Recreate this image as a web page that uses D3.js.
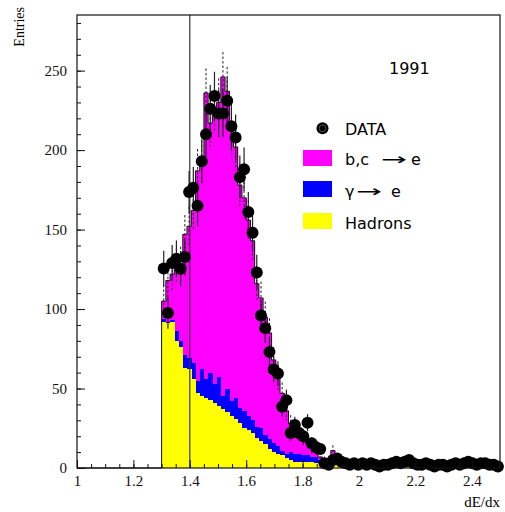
<!DOCTYPE html>
<html><head><meta charset="utf-8">
<script src="https://cdn.jsdelivr.net/npm/d3@7"></script>
<style>body{margin:0;background:#fff}svg{display:block}</style>
</head><body>
<svg id="c" width="505" height="512"></svg>
<script>
// ---- data (bins of width 0.015 starting at dE/dx = 1.3) ----
const binStart = 1.3;
const binWidth = 0.015;
const hadrons = [92,91,92,80,76,63,62,56,47,45,44,43,41,39,37,35,33,31,28,25,
  24,22,19,17,15,12,10,9,8,6,5,4,4,4,4,3.5,3,3,3,2.5,
  3,3,2,2,1.5,2,2,1.5,1.5,1,1.5,1,1,1.5,1,1,1,1,1.5,1,
  1,1,1,1,1,1,1,1,1,1,1,1,1,1,1,1,1,1,1,1];
const gammaE = [2,1,1,6,4,8,7,10,8,17,12,17,12,18,8,15,9,13,10,11,
  9,8,7,8,6,6,6,5,3,3,5,5,5,4,4,3.5,4,2,1,1,
  1,1,1,0.5,0.5,0.5,0.5,0.5,0.5,0.5,0.5,0.5,0.5,0.5,0.5,0.5,0.5,0.5,0.5,0.5,
  0.5,0.5,0.5,0.5,0.5,0.5,0.5,0.5,0.5,0.5,0.5,0.5,0.5,0.5,0.5,0.5,0.5,0.5,0.5,0.5];
const bcE = [11,26,29,41,48,76,83,96,132,133,180,157,174,173,201,187,170,158,140,134,
  123,113,90,82,74,67,52,43,36,27,18,15,13,9.5,7.5,6,2.5,2,1,0.5,
  7,2,0.5,0.5,0.5,0.5,0.5,0.5,0.5,0.5,0.5,0.5,0.5,0.5,0.5,0.5,0.5,0.5,0.5,0.5,
  0.5,0.5,0.5,0.5,0.5,0.5,0.5,0.5,0.5,0.5,0.5,0.5,0.5,0.5,0.5,0.5,0.5,0.5,0.5,0.5];
const dataCounts = [125.5,97.5,129,131.7,125.4,132.7,173.6,176.3,165,193,210,226,234,223,223,231,215,208,183,188,
  161,148,123,96,88,73,62,59.5,38.5,42.7,22,27,22,20,28.5,15.5,13,12,3,2,
  5,6,4,3,2,3,2,3,2,3,2,1,2,2,3,4,3,4,5,3,
  2,2,3,2,1,2,2,1,2,3,2,3,4,3,2,3,3,2,2,1];
const xTickValues = [1,1.2,1.4,1.6,1.8,2,2.2,2.4];
const xTickLabels = ["1","1.2","1.4","1.6","1.8","2","2.2","2.4"];
const yTickValues = [0,50,100,150,200,250];
const cutValue = 1.4;
const legendLabels = ["DATA","b,c","γ","Hadrons"];
const yearLabel = "1991";

// ---- layout ----
const svg = d3.select("#c");
const x = d3.scaleLinear().domain([1,2.5]).range([77,500]);
const y = d3.scaleLinear().domain([0,285]).range([468,15]);

const bins = dataCounts.map((d,i)=>{
  const x0 = binStart + i*binWidth;
  const h = hadrons[i], g = h + gammaE[i], t = g + bcE[i];
  return {x0, x1:x0+binWidth, xc:x0+binWidth/2, h, g, t, d};
});

const gH = svg.append("g").attr("shape-rendering","crispEdges");
function bars(key,color){
  gH.selectAll(null).data(bins).enter().append("rect")
    .attr("x",b=>x(b.x0)).attr("width",b=>x(b.x1)-x(b.x0)+0.3)
    .attr("y",b=>y(b[key])).attr("height",b=>y(0)-y(b[key]))
    .attr("fill",color);
}
bars("t","#ff00ff");
bars("g","#0000ff");
bars("h","#ffff00");

// total MC outline (step)
const stepPts = [[1,0],[binStart,0]];
bins.forEach(b=>{stepPts.push([b.x0,b.t]);stepPts.push([b.x1,b.t]);});
stepPts.push([2.5,0]);
svg.append("path")
  .attr("d", d3.line().x(p=>x(p[0])).y(p=>y(p[1]))(stepPts))
  .attr("fill","none").attr("stroke","#111").attr("stroke-width",1);

// cut line at 1.4
svg.append("line").attr("x1",x(cutValue)).attr("x2",x(cutValue))
  .attr("y1",y(285)).attr("y2",y(0)).attr("stroke","#333").attr("stroke-width",1.2);

// MC error bars (dashed)
svg.append("g").selectAll("line").data(bins.filter(b=>b.t>3)).enter().append("line")
  .attr("x1",b=>x(b.xc)).attr("x2",b=>x(b.xc))
  .attr("y1",b=>y(b.t+Math.sqrt(b.t))).attr("y2",b=>y(Math.max(0,b.t-Math.sqrt(b.t))))
  .attr("stroke","#222").attr("stroke-width",1).attr("stroke-dasharray","2.5,2");

// data error bars
svg.append("g").selectAll("line").data(bins).enter().append("line")
  .attr("x1",b=>x(b.xc)).attr("x2",b=>x(b.xc))
  .attr("y1",b=>y(b.d+Math.sqrt(b.d))).attr("y2",b=>y(Math.max(0,b.d-Math.sqrt(b.d))))
  .attr("stroke","#222").attr("stroke-width",1.2);
// data markers
svg.append("g").selectAll("circle").data(bins).enter().append("circle")
  .attr("cx",b=>x(b.xc)).attr("cy",b=>y(b.d)).attr("r",6).attr("fill","#000");

// ---- axes ----
const serif = "'Liberation Serif','Times New Roman',serif";
const ax = svg.append("g").attr("transform","translate(0,468)");
ax.call(d3.axisBottom(x).tickValues(d3.range(1,2.5001,0.05)).tickSize(-4).tickFormat(""));
ax.append("g").call(d3.axisBottom(x).tickValues(xTickValues).tickSize(-8).tickPadding(7)
  .tickFormat((d,i)=>xTickLabels[i]));
const ay = svg.append("g").attr("transform","translate(77,0)");
ay.call(d3.axisLeft(y).tickValues(d3.range(0,281,10)).tickSize(-4).tickFormat(""));
ay.append("g").call(d3.axisLeft(y).tickValues(yTickValues).tickSize(-8).tickPadding(10));
svg.selectAll(".domain").remove();
svg.selectAll("g").attr("font-family",null).attr("font-size",null);
svg.selectAll(".tick line").attr("stroke","#111");
svg.selectAll(".tick text").style("font-family",serif).style("font-size","15px").attr("fill","#111");

// frame
svg.append("rect").attr("x",77).attr("y",15).attr("width",423).attr("height",453)
  .attr("fill","none").attr("stroke","#111").attr("stroke-width",1.2);

// axis titles
svg.append("text").attr("x",500).attr("y",507).attr("text-anchor","end")
  .style("font-family",serif).style("font-size","15px").text("dE/dx");
svg.append("text").attr("transform","translate(24,7) rotate(-90)").attr("text-anchor","end")
  .style("font-family",serif).style("font-size","14px").text("Entries");

// ---- legend ----
const sans = "'DejaVu Sans',sans-serif";
svg.append("text").attr("x",389).attr("y",74).style("font-family",sans).style("font-size","16px").text(yearLabel);
svg.append("circle").attr("cx",322.5).attr("cy",128.3).attr("r",6).attr("fill","#000");
svg.append("circle").attr("cx",322.5).attr("cy",128.3).attr("r",3.3).attr("fill","none").attr("stroke","#666").attr("stroke-width",0.8);
const lt = (s,xx,yy)=>svg.append("text").attr("x",xx).attr("y",yy).style("font-family",sans).style("font-size","16px").text(s);
lt(legendLabels[0],345,135);
svg.append("rect").attr("x",303).attr("y",150).attr("width",29).attr("height",16).attr("fill","#ff00ff");
lt(legendLabels[1],345,165);
svg.append("text").attr("x",381).attr("y",165).style("font-family",sans).style("font-size","16px")
  .attr("textLength",26).attr("lengthAdjust","spacingAndGlyphs").text("→");
lt("e",411,165);
svg.append("rect").attr("x",303).attr("y",181).attr("width",29).attr("height",16).attr("fill","#0000ff");
lt(legendLabels[2],345,197);
svg.append("text").attr("x",356).attr("y",197).style("font-family",sans).style("font-size","16px")
  .attr("textLength",26).attr("lengthAdjust","spacingAndGlyphs").text("→");
lt("e",391,197);
svg.append("rect").attr("x",303).attr("y",213).attr("width",29).attr("height",16).attr("fill","#ffff00");
lt(legendLabels[3],345,229);
</script>
</body></html>
